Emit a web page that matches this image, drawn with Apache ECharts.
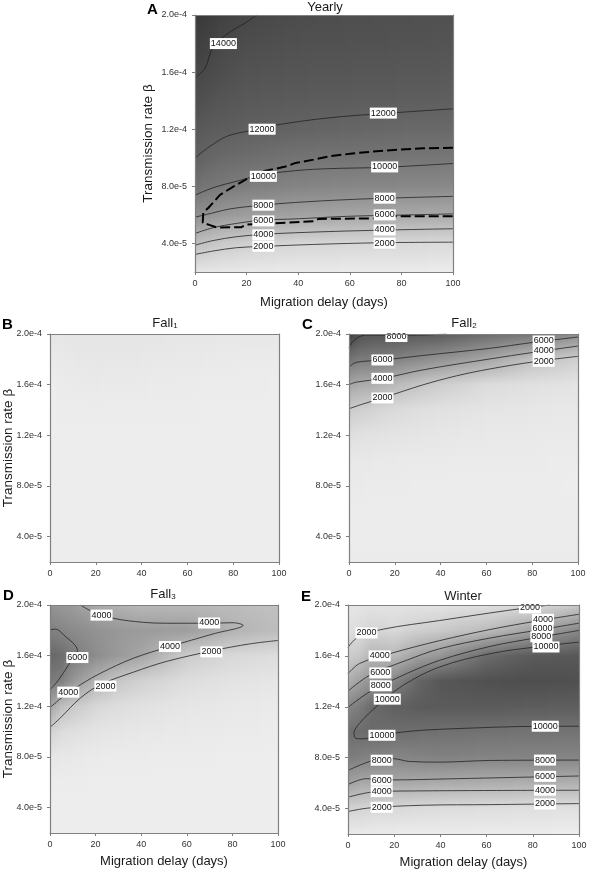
<!DOCTYPE html>
<html><head><meta charset="utf-8">
<style>html,body{margin:0;padding:0;background:#fff}#c{width:589px;height:872px}</style>
<script src="https://cdn.jsdelivr.net/npm/echarts@6/dist/echarts.min.js"></script>
</head><body><div id="c"></div>
<script>
// beta is expressed in units of 1e-5
const delayCols=[0,5,10,20,30,40,60,80,100];
const betaRows=[2,4,6,8,10,12,14,16,18,20];
const yTickValues=[4,8,12,16,20];
const yTickLabels=["4.0e-5","8.0e-5","1.2e-4","1.6e-4","2.0e-4"];
const titles=["Yearly","Fall{s|1}","Fall{s|2}","Fall{s|3}","Winter"];
const letters=["A","B","C","D","E"];

const fieldA=[
[900,4300,8200,10600,12000,12700,13500,14100,14700,15200],
[800,3700,7900,10200,11500,12400,13200,13900,14500,15000],
[700,3200,7300,9900,11200,12300,12900,13500,14000,14500],
[600,2700,6900,9500,10900,12000,12600,13100,13600,14100],
[550,2400,6700,9250,10650,11850,12500,13000,13450,13900],
[500,2200,6500,9000,10400,11700,12400,12900,13300,13700],
[450,2100,6200,8800,10300,11500,12300,12800,13200,13500],
[400,1950,6000,8700,10200,11300,12200,12700,13100,13400],
[350,1800,5900,8600,10100,11200,12100,12600,13000,13300]];
const fieldB=[
[150,150,150,150,150,160,180,220,300,500],
[150,150,150,150,150,170,190,260,380,550],
[150,150,150,150,150,170,200,310,450,570],
[150,150,150,150,150,170,210,350,500,600],
[150,150,150,150,150,170,205,330,480,590],
[150,150,150,150,150,170,200,300,450,580],
[150,150,150,150,150,160,190,250,380,540],
[150,150,150,150,150,160,180,210,300,480],
[150,150,150,150,150,150,170,180,250,450]];
const fieldC=[
[250,200,200,300,450,900,1950,4000,6700,9500],
[250,200,200,300,420,800,1750,3650,6200,8500],
[250,200,200,280,400,750,1500,3500,6150,8200],
[250,200,200,250,350,650,1150,2900,5900,8100],
[250,200,200,235,320,570,950,2300,5400,8000],
[250,200,200,220,300,500,800,1850,4950,7900],
[250,200,200,200,270,400,600,1100,4000,7000],
[250,200,200,200,250,350,500,850,2500,6500],
[250,200,200,180,220,300,400,650,1700,5300]];
const fieldD=[
[150,150,200,500,1600,4100,6300,7300,6000,5000],
[150,150,200,450,1100,2700,6000,7000,5700,4700],
[150,150,200,400,900,2100,4800,6300,5400,4500],
[150,150,180,300,650,1300,3300,5300,5000,3700],
[150,150,175,270,530,1000,2200,4600,4700,3300],
[150,150,170,250,450,800,1650,4000,4500,3000],
[150,150,170,200,350,550,1000,1950,4400,3000],
[150,150,150,180,280,400,700,1300,3300,2800],
[150,150,150,150,220,320,550,1000,2700,2500]];
const fieldE=[
[500,2300,6200,8900,9900,8100,5000,2700,1300,800],
[450,2100,5500,8700,10100,9000,6200,3200,1600,900],
[400,1900,5400,8300,10300,10200,7200,4500,2100,1000],
[350,1800,5500,8100,10050,11000,8200,4300,1800,1000],
[320,1600,5400,8300,9900,11400,10600,6000,2500,1000],
[300,1500,5300,8500,9800,11500,11800,7000,2900,1000],
[300,1400,5100,8300,9700,11500,12300,10300,4000,1300],
[280,1300,5000,8300,9600,11300,12500,11500,6000,1500],
[250,1200,4900,8200,9600,11200,12300,11700,8000,3100]];

const A14000=[[0,15.6],[3.9,16.27],[7.1,17.8],[13.5,18.8],[20,19.5],[23.9,20]];
const A12000=[[0,9.99],[5.8,10.8],[12.3,11.5],[21.3,11.9],[31.6,12.3],[52,12.8],[73,13.1],[100,13.43]];
const A10000=[[0,7.38],[7,7.9],[16,8.35],[26,8.8],[39,9.1],[52,9.24],[73,9.33],[100,9.6]];
const A8000=[[0,5.84],[7,6.14],[13.5,6.42],[26,6.68],[39,6.87],[59,7.07],[78,7.19],[100,7.3]];
const A6000=[[0,4.7],[7,5.1],[16,5.4],[26,5.63],[39,5.72],[59,5.9],[78,5.98],[100,6.07]];
const A4000=[[0,3.88],[7,4.2],[16,4.47],[26,4.63],[39,4.75],[65,4.9],[100,5.03]];
const A2000=[[0,3.23],[7,3.47],[16,3.7],[26,3.79],[46,3.93],[72,4.05],[100,4.09]];
const Adashed=[[100,10.71],[88.4,10.66],[73,10.5],[61,10.3],[52,10.1],[46,9.87],[39,9.64],[35.5,9.4],[31.6,9.24],[26,9.05],[21,8.6],[15,8],[9.7,7.4],[5.2,6.5],[3.2,6.15],[3,5.45],[5.8,5.28],[8.4,5.12],[18,5.14],[20,5.33],[30,5.4],[46,5.56],[48,5.72],[70,5.75],[75,5.9],[100,5.9]];
const labelsA=[[11,18,14000],[26,12,12000],[73,13.13,12000],[26.5,8.7,10000],[73.5,9.36,10000],[26.5,6.68,8000],[73.5,7.17,8000],[26.5,5.58,6000],[73.5,6,6000],[26.5,4.6,4000],[73.5,4.95,4000],[26.5,3.8,2000],[73.5,4.02,2000]];

const C8000=[[0,18.92],[1.7,19.4],[4,19.74],[7.6,19.92],[20.7,19.9],[32,19.92],[42.6,20]];
const C6000=[[0,17.4],[3.2,17.76],[15,17.95],[32,18.3],[61.5,18.87],[80.5,19.34],[100,19.76]];
const C4000=[[0,16],[3.2,16.2],[15,16.5],[32,17.16],[61.5,18.03],[80.5,18.55],[100,19.05]];
const C2000=[[0,14.1],[6,14.47],[15,14.97],[32,15.97],[47,16.7],[61.5,17.24],[80.5,17.8],[100,18.24]];
const labelsC=[[20.7,19.8,8000],[14.6,17.95,6000],[14.6,16.5,4000],[14.6,14.95,2000],[85,19.45,6000],[85,18.7,4000],[85,17.84,2000]];

const D6000=[[0,18.03],[2.3,18.1],[6,17.64],[12,16.4],[8.2,15.3],[3.8,14.1],[0,13.3]];
const D4000=[[13.3,20],[18.4,19.5],[27.8,18.95],[41,18.63],[51,18.56],[68.7,18.56],[80.3,18.6],[84.7,18.4],[71.6,17.72],[52.6,16.72],[36.6,15.8],[22,14.6],[13.3,13.7],[6,12.8],[0,11.9]];
const D2000=[[0,10.34],[4.5,11.08],[13.3,12.65],[22,13.7],[36.6,14.7],[51,15.54],[71.6,16.4],[87.6,16.93],[100,17.2]];
const labelsD=[[22.6,19.2,4000],[69.8,18.58,4000],[52.6,16.72,4000],[70.8,16.3,2000],[12,15.85,6000],[8,13.12,4000],[24.3,13.6,2000]];

const E2000low=[[0,3.77],[9.4,4.05],[32.5,4.26],[61.4,4.31],[100,4.39]];
const E4000low=[[0,4.89],[10.8,5.3],[32.5,5.39],[100,5.44]];
const E6000low=[[0,5.89],[8,6.35],[18,6.25],[47,6.35],[100,6.56]];
const E8000low=[[0,7],[10.8,7.78],[19.5,7.92],[26.7,7.7],[39.7,7.65],[61.4,7.78],[100,7.81]];
const E10000=[[100,10.47],[86,10.47],[39.7,10.23],[25.3,10.05],[15,9.79],[6.5,9.48],[3.3,9.53],[2.6,9.92],[5,10.7],[13,12.13],[24,13.7],[39.7,15.13],[61.4,16.17],[83,16.74],[100,17.08]];
const E8000up=[[0,11.95],[9.4,13.18],[25.3,14.6],[39.7,15.65],[61.4,16.74],[83,17.47],[100,18]];
const E6000up=[[0,13.23],[9.4,14.48],[25.3,15.65],[39.7,16.56],[61.4,17.4],[83,18.05],[100,18.57]];
const E4000up=[[0,14.6],[5,15.4],[18,16.17],[39.7,17.2],[61.4,18.07],[83,18.78],[100,19.27]];
const E2000up=[[0,16.67],[4.3,17.47],[15.2,18.1],[39.7,18.78],[68.6,19.56],[87.4,20]];
const labelsE=[[8,17.8,2000],[13.7,16,4000],[14,14.66,6000],[14.2,13.65,8000],[17,12.6,10000],[14.7,9.76,10000],[14.6,7.8,8000],[14.6,6.22,6000],[14.6,5.33,4000],[14.6,4.1,2000],[78.8,19.77,2000],[84.4,18.88,4000],[84.2,18.18,6000],[83.7,17.5,8000],[85.7,16.7,10000],[85.4,10.47,10000],[85.3,7.81,8000],[85.3,6.53,6000],[85.3,5.44,4000],[85.3,4.36,2000]];

const fields=[fieldA,fieldB,fieldC,fieldD,fieldE];
const contours=[[A14000,A12000,A10000,A8000,A6000,A4000,A2000],[],[C8000,C6000,C4000,C2000],[D6000,D4000,D2000],[E2000low,E4000low,E6000low,E8000low,E10000,E8000up,E6000up,E4000up,E2000up]];
const labels=[labelsA,[],labelsC,labelsD,labelsE];
const dashed=[Adashed,null,null,null,null];

// layout and style
const boxes=[[195,15,258,257],[50,334,229,228],[349,334,229,228],[50,605,228,228],[348,605,231,229]];
const slopes=[0.012,0.01875,0.01875,0.01875,0.013];
const yNameGaps=[40,35,0,35,0];
const xNameGaps=[24,0,0,22,22];
const yNamed=[true,true,false,true,false];
const xNamed=[true,false,false,true,true];
const titlePos=[[325,1],[165,316],[464,316],[163,587],[463,590]];
const letterPos=[[147,2],[2,317],[302,317],[3,588],[301,589]];
const FONT='"Liberation Sans",Arial,sans-serif';
const AX='#808080';

function renderField(p){
  const field=fields[p], slope=slopes[p];
  return function(params,api){
    const i=api.value(2), a=field[i], b=field[i+1];
    const x0=Math.round(api.coord([api.value(0),20])[0]);
    const x1=Math.round(api.coord([api.value(1),20])[0]);
    const top=Math.round(api.coord([0,20])[1]), bot=Math.round(api.coord([0,2])[1]);
    const kids=[], step=3;
    for(let s=x0;s<x1;s+=step){
      const w=Math.min(step,x1-s), t=(s+w/2-x0)/(x1-x0);
      const stops=betaRows.map((r,k)=>{
        const v=a[k]+(b[k]-a[k])*t, g=Math.round(Math.max(0,Math.min(255,240-v*slope)));
        return {offset:(20-r)/18,color:`rgb(${g},${g},${g})`};
      }).reverse();
      kids.push({type:'rect',shape:{x:s,y:top,width:w,height:bot-top},
        style:{fill:new echarts.graphic.LinearGradient(0,0,0,1,stops)},silent:true});
    }
    return {type:'group',children:kids};
  };
}

const grid=[],xAxis=[],yAxis=[],series=[],title=[];
boxes.forEach((bx,p)=>{
  grid.push({left:bx[0],top:bx[1],width:bx[2],height:bx[3],outerBoundsMode:'none',containLabel:false});
  xAxis.push({type:'value',gridIndex:p,min:0,max:100,interval:20,z:10,
    name:xNamed[p]?'Migration delay (days)':'',nameLocation:'middle',nameGap:xNameGaps[p],nameMoveOverlap:false,
    nameTextStyle:{fontFamily:FONT,fontSize:13,color:'#1a1a1a'},
    axisLine:{show:true,onZero:false,lineStyle:{color:AX,width:1.2}},
    axisTick:{show:true,length:3,lineStyle:{color:AX}},
    axisLabel:{fontFamily:FONT,fontSize:9,color:'#333',margin:7,hideOverlap:false,showMinLabel:true,showMaxLabel:true},
    splitLine:{show:false}});
  xAxis.push({type:'value',gridIndex:p,position:'top',min:0,max:100,z:10,
    axisLine:{show:true,onZero:false,lineStyle:{color:AX,width:1.2}},
    axisTick:{show:false},axisLabel:{show:false},splitLine:{show:false}});
  yAxis.push({type:'value',gridIndex:p,min:2,max:20,interval:2,z:10,
    name:yNamed[p]?'Transmission rate β':'',nameLocation:'middle',nameGap:yNameGaps[p],nameMoveOverlap:false,
    nameTextStyle:{fontFamily:FONT,fontSize:13.5,color:'#1a1a1a'},
    axisLine:{show:true,onZero:false,lineStyle:{color:AX,width:1.2}},
    axisTick:{show:true,length:3,customValues:yTickValues,lineStyle:{color:AX}},
    axisLabel:{fontFamily:FONT,fontSize:9,color:'#333',margin:8,customValues:yTickValues,
      formatter:v=>yTickLabels[yTickValues.indexOf(v)]},
    splitLine:{show:false}});
  yAxis.push({type:'value',gridIndex:p,position:'right',min:2,max:20,z:10,
    axisLine:{show:true,onZero:false,lineStyle:{color:AX,width:1.2}},
    axisTick:{show:false},axisLabel:{show:false},splitLine:{show:false}});
  const xi=p*2, yi=p*2;
  series.push({type:'custom',xAxisIndex:xi,yAxisIndex:yi,z:1,silent:true,clip:true,
    coordinateSystem:'cartesian2d',encode:{x:[0,1],y:2},
    data:delayCols.slice(0,-1).map((d,i)=>[d,delayCols[i+1],i]),
    renderItem:renderField(p)});
  contours[p].forEach(c=>series.push({type:'line',xAxisIndex:xi,yAxisIndex:yi,z:3,data:c,
    smooth:0.35,symbol:'none',silent:true,clip:true,lineStyle:{color:'#222',width:0.8}}));
  if(dashed[p]) series.push({type:'line',xAxisIndex:xi,yAxisIndex:yi,z:4,data:dashed[p],
    symbol:'none',silent:true,lineStyle:{color:'#000',width:2,type:[10,4]}});
  if(labels[p].length) series.push({type:'scatter',xAxisIndex:xi,yAxisIndex:yi,z:5,data:labels[p],
    symbolSize:0,silent:true,clip:false,itemStyle:{opacity:1},
    label:{show:true,position:'inside',formatter:q=>String(q.value[2]),fontFamily:FONT,fontSize:9,
      color:'#111',backgroundColor:'#fff',padding:[1,1,1,1],opacity:1}});
  title.push({text:titles[p],left:titlePos[p][0],top:titlePos[p][1],textAlign:'center',padding:0,
    textStyle:{fontFamily:FONT,fontSize:13,fontWeight:'normal',color:'#1a1a1a',
      rich:{s:{fontFamily:FONT,fontSize:8,verticalAlign:'bottom',padding:[6,0,0,0],color:'#1a1a1a'}}}});
  title.push({text:letters[p],left:letterPos[p][0],top:letterPos[p][1],padding:0,
    textStyle:{fontFamily:FONT,fontSize:15,fontWeight:'bold',color:'#000'}});
});

const chart=echarts.init(document.getElementById('c'),null,{renderer:'canvas'});
chart.setOption({animation:false,backgroundColor:'#fff',title,grid,xAxis,yAxis,series,tooltip:{show:false}});
</script></body></html>
